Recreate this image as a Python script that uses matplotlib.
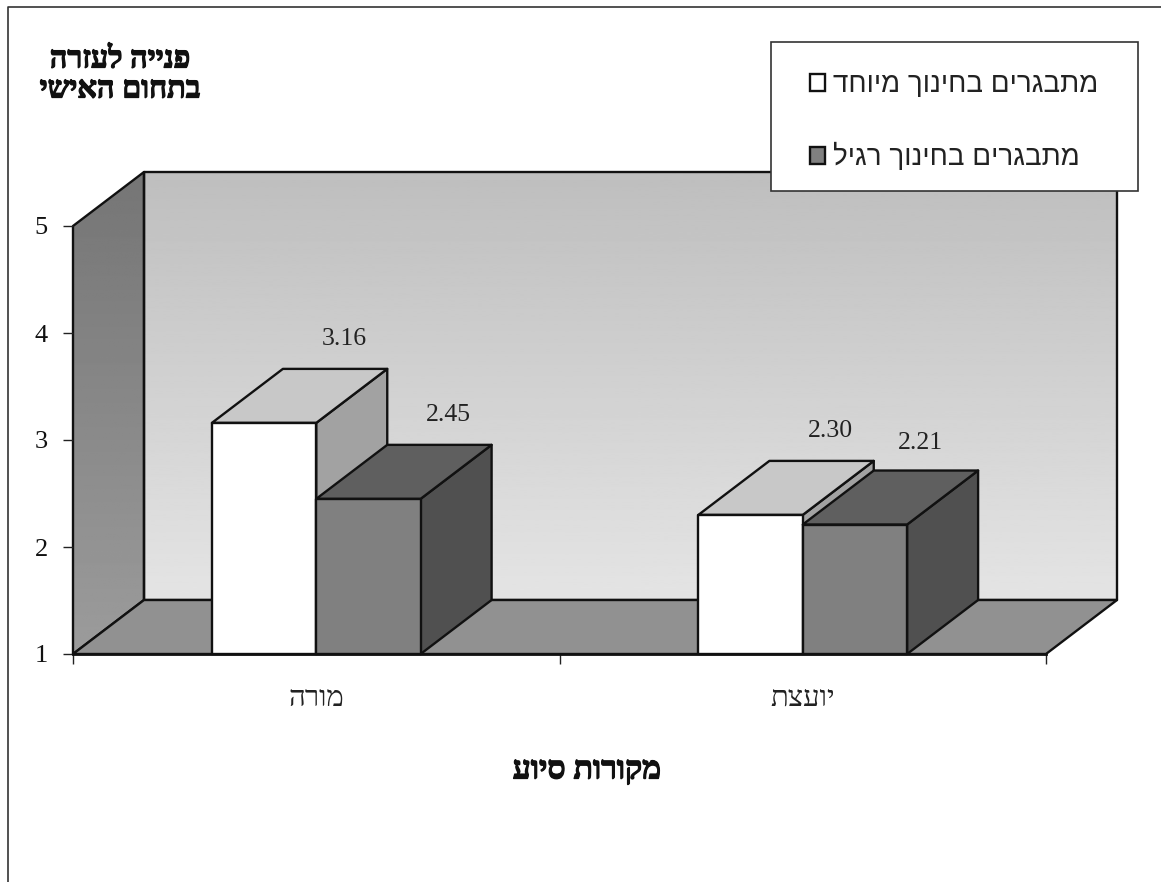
import matplotlib
matplotlib.use("Agg")
import matplotlib.pyplot as plt
import matplotlib.patheffects as pe
import numpy as np
from matplotlib.lines import Line2D
from matplotlib.patches import Patch, Polygon, Rectangle

# Chart content
categories = ["מורה", "יועצת"]
series_names = ["מתבגרים בחינוך מיוחד", "מתבגרים בחינוך רגיל"]
special_education = [3.16, 2.30]
regular_education = [2.45, 2.21]
y_ticks = [1, 2, 3, 4, 5]
title_lines = ["פנייה לעזרה", "בתחום האישי"]
x_title = "מקורות סיוע"

W, H = 1161, 882
PLOT_L, PLOT_R, PLOT_T, PLOT_B = 73, 1046, 226, 654
DEPTH_PX = (71, 54)
BAR_SHARE = 0.2145  # bar width as a share of one category slot
EDGE = "#111111"
LW = 1.7

SERIF = "Liberation Serif"
SANS = "Liberation Sans"
BOLD = [pe.withStroke(linewidth=0.9, foreground="#111111")]


def rtl(text):
    """matplotlib has no bidi layout, so Hebrew is handed over in visual order."""
    return text[::-1]


fig = plt.figure(figsize=(W / 100, H / 100), dpi=100, facecolor="white")
ax = fig.add_axes([PLOT_L / W, 1 - PLOT_B / H, (PLOT_R - PLOT_L) / W, (PLOT_B - PLOT_T) / H])
ax.set_xlim(0, len(categories))
ax.set_ylim(y_ticks[0], y_ticks[-1])
ax.patch.set_visible(False)
for spine in ax.spines.values():
    spine.set_visible(False)

# Depth of the 3-D box expressed in data units
dx = DEPTH_PX[0] / ((PLOT_R - PLOT_L) / len(categories))
dy = DEPTH_PX[1] / ((PLOT_B - PLOT_T) / (y_ticks[-1] - y_ticks[0]))
base, top = y_ticks[0], y_ticks[-1]
xmax = len(categories)


def face(points, color, z):
    patch = Polygon(points, closed=True, facecolor=color, edgecolor=EDGE,
                    linewidth=LW, joinstyle="round", clip_on=False, zorder=z)
    ax.add_patch(patch)
    return patch


def gradient_face(points, top_grey, bottom_grey, z):
    patch = face(points, "none", z + 0.1)
    ys = [p[1] for p in points]
    xs = [p[0] for p in points]
    ramp = np.linspace(top_grey, bottom_grey, 256).reshape(-1, 1)
    img = ax.imshow(ramp, cmap="gray", vmin=0, vmax=1, aspect="auto",
                    extent=(min(xs), max(xs), min(ys), max(ys)),
                    origin="upper", zorder=z)
    # Walls extend past the axes rectangle, so clip to the face and the figure only
    img.set_clip_path(patch)
    img.set_clip_box(fig.bbox)
    return img


# Walls and floor
gradient_face([(dx, base + dy), (xmax + dx, base + dy), (xmax + dx, top + dy), (dx, top + dy)],
              0.745, 0.895, 1)
gradient_face([(0, base), (dx, base + dy), (dx, top + dy), (0, top)], 0.46, 0.61, 1)
face([(0, base), (dx, base + dy), (xmax + dx, base + dy), (xmax, base)], "#919191", 2)
ax.set_xlim(0, xmax)
ax.set_ylim(base, top)


def box(x0, width, value, front, roof, side, z):
    x1 = x0 + width
    face([(x1, base), (x1 + dx, base + dy), (x1 + dx, value + dy), (x1, value)], side, z)
    face([(x0, value), (x1, value), (x1 + dx, value + dy), (x0 + dx, value + dy)], roof, z)
    face([(x0, base), (x1, base), (x1, value), (x0, value)], front, z + 0.1)


series_styles = [("#ffffff", "#c8c8c8", "#a2a2a2"), ("#808080", "#5f5f5f", "#505050")]
label_nudge = [[(0, 0), (0, 0)], [(0, 0), (-14, -2)]]  # pixel nudges, [series][category]

for c in range(len(categories)):
    centre = c + 0.5
    for s, values in enumerate([special_education, regular_education]):
        x0 = centre + (s - 1) * BAR_SHARE
        box(x0, BAR_SHARE, values[c], *series_styles[s], z=3 + c * 2 + s * 0.5)
        nudge = label_nudge[s][c]
        ax.annotate(f"{values[c]:.2f}", (x0 + BAR_SHARE / 2, values[c]),
                    xytext=(80 + nudge[0], 84 + nudge[1]), textcoords="offset pixels",
                    ha="center", va="center", family=SERIF, fontsize=18.5,
                    color="#222222", annotation_clip=False, zorder=12)

# Axes ticks and labels
ax.set_yticks(y_ticks)
ax.set_yticklabels([str(v) for v in y_ticks], family=SERIF, fontsize=19, color="#111111")
ax.tick_params(axis="y", length=7.2, width=1, pad=11, color="#222222")
ax.set_xticks(range(len(categories) + 1))
ax.set_xticklabels([])
ax.tick_params(axis="x", which="major", length=7.2, width=1, color="#222222")
ax.set_xticks([c + 0.5 for c in range(len(categories))], minor=True)
ax.set_xticklabels([rtl(c) for c in categories], minor=True, family=SERIF,
                   fontsize=21, color="#222222")
ax.tick_params(axis="x", which="minor", length=0, pad=23)
ax.plot([0, xmax], [base, base], color=EDGE, lw=2, clip_on=False, zorder=11)

# Titles
for line, y in zip(title_lines, (60, 90)):
    fig.text(120 / W, 1 - y / H, rtl(line), family=SERIF, weight="bold", fontsize=22,
             ha="center", va="center", color="#111111", path_effects=BOLD)
fig.text(587 / W, 1 - 771 / H, rtl(x_title), family=SERIF, weight="bold", fontsize=23,
         ha="center", va="center", color="#111111", path_effects=BOLD)

# Legend panel
fig.add_artist(Rectangle((771 / W, 1 - 191 / H), 367 / W, 149 / H, transform=fig.transFigure,
                         facecolor="white", edgecolor="#333333", linewidth=1.2, zorder=20))
handles = [Patch(facecolor=style[0], edgecolor=EDGE, linewidth=1.7) for style in series_styles]
legend = fig.legend(handles, [rtl(n) for n in series_names], loc="upper left",
                    bbox_to_anchor=(810 / W, 1 - 72 / H), bbox_transform=fig.transFigure,
                    frameon=False, prop={"family": SANS, "size": 20},
                    handlelength=0.55, handleheight=0.55, handletextpad=0.28,
                    labelspacing=1.62, borderpad=0, borderaxespad=0)
legend.set_zorder(21)
for text in legend.get_texts():
    text.set_color("#222222")

# Outer chart border: only the top and left edges are in frame
fig.add_artist(Line2D([8 / W, 8 / W, 1], [0, 1 - 7 / H, 1 - 7 / H], transform=fig.transFigure,
                      color="#333333", linewidth=1.2))

fig.savefig("out.png", dpi=100)
